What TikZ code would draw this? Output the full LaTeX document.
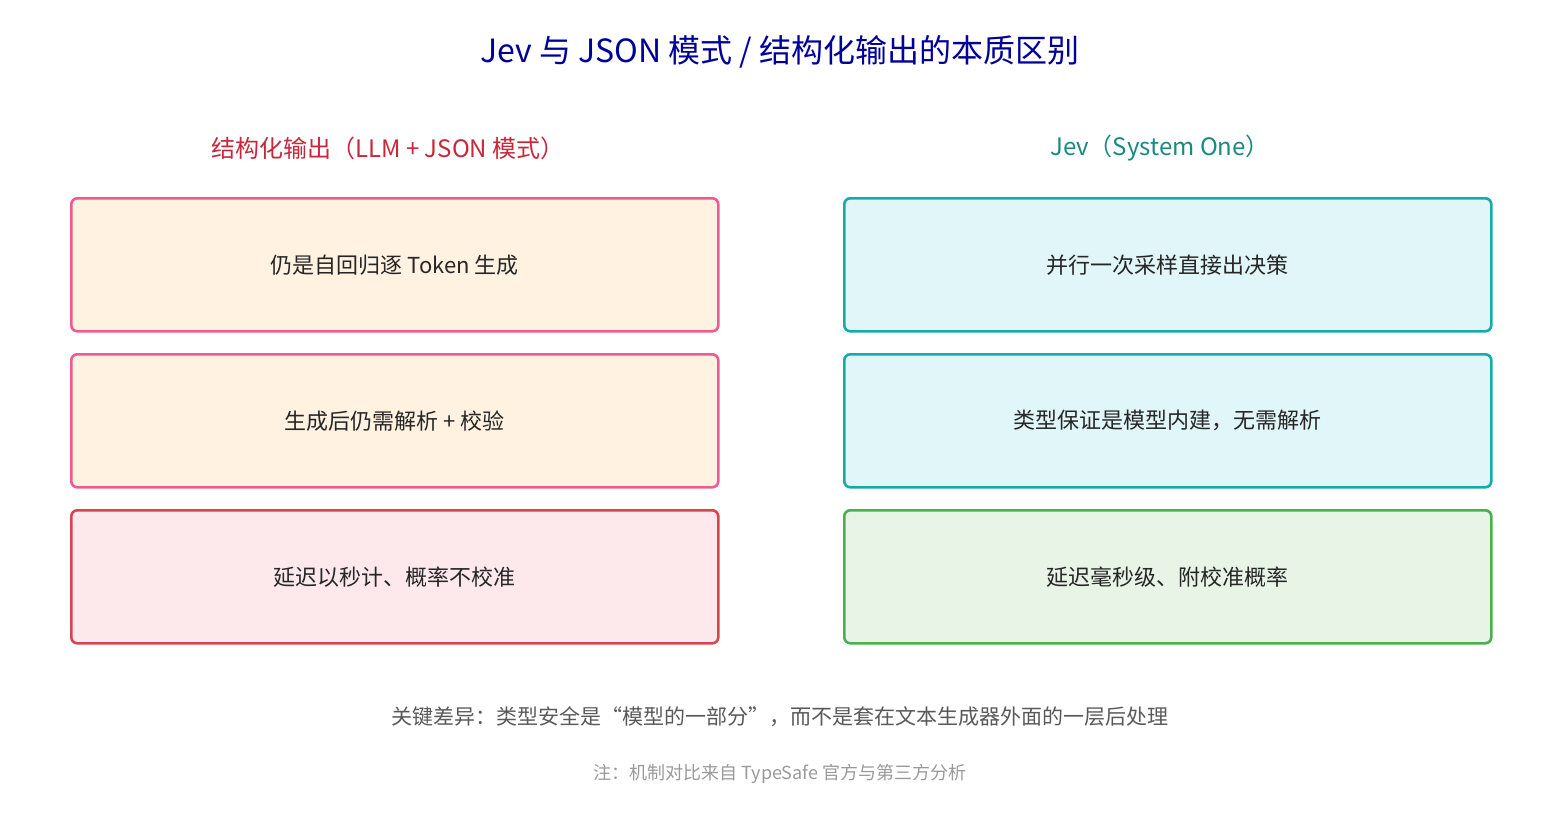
\documentclass[tikz,border=0pt]{standalone}
\usepackage{fontspec}
\setmainfont{Noto Sans CJK SC}
\begin{document}
\begin{tikzpicture}[x=0.5pt,y=-0.5pt,
 box/.style={draw,line width=1.3pt,rounded corners=3pt,minimum width=323.5pt,minimum height=66.5pt,font=\fontsize{11}{13}\selectfont,text=black!85,anchor=north west},
 pk/.style={box,draw=pinkb,fill=pinkf},
 rd/.style={box,draw=redb,fill=redf},
 cy/.style={box,draw=cyanb,fill=cyanf},
 gr/.style={box,draw=greenb,fill=greenf}]
\definecolor{pinkb}{HTML}{EE5A93}\definecolor{pinkf}{HTML}{FFF2E0}
\definecolor{redb}{HTML}{D64550}\definecolor{redf}{HTML}{FDE9EC}
\definecolor{cyanb}{HTML}{14ABAA}\definecolor{cyanf}{HTML}{E0F6F8}
\definecolor{greenb}{HTML}{4CAF4F}\definecolor{greenf}{HTML}{E7F4E6}
\useasboundingbox (0,0) rectangle (1560,825);
\node (title) at (780,52) [text=blue!60!black,font=\fontsize{16}{19}\selectfont] {Jev 与 JSON 模式 / 结构化输出的本质区别};
\node (hl) at (388,148) [text={rgb,255:red,198;green,40;blue,57},font=\fontsize{12}{14}\selectfont] {结构化输出（LLM + JSON 模式）};
\node (hr) at (1160,148) [text={rgb,255:red,26;green,138;blue,128},font=\fontsize{12}{14}\selectfont] {Jev（System One）};
\node[pk] (l1) at (70,197) {仍是自回归逐 Token 生成};
\node[pk] (l2) at (70,353) {生成后仍需解析 + 校验};
\node[rd] (l3) at (70,509) {延迟以秒计、概率不校准};
\node[cy] (r1) at (843,197) {并行一次采样直接出决策};
\node[cy] (r2) at (843,353) {类型保证是模型内建，无需解析};
\node[gr] (r3) at (843,509) {延迟毫秒级、附校准概率};
\node (key) at (780,717) [text=black!65,font=\fontsize{10.5}{13}\selectfont] {关键差异：类型安全是“模型的一部分”，而不是套在文本生成器外面的一层后处理};
\node (note) at (780,774) [text=black!40,font=\fontsize{9}{11}\selectfont] {注：机制对比来自 TypeSafe 官方与第三方分析};
\end{tikzpicture}
\end{document}
